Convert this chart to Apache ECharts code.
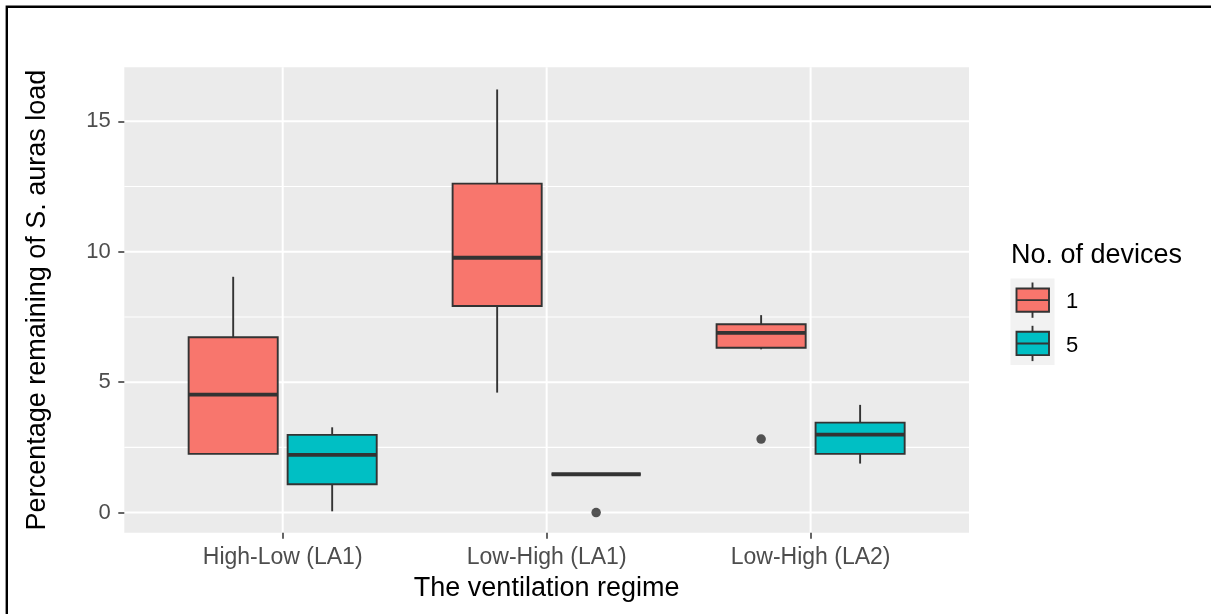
<!DOCTYPE html>
<html>
<head>
<meta charset="utf-8">
<script src="https://cdn.jsdelivr.net/npm/echarts@6/dist/echarts.min.js"></script>
<style>
  html, body { margin: 0; padding: 0; background: #ffffff; }
  #chart { width: 1211px; height: 614px; }
</style>
</head>
<body>
<div id="chart"></div>
<script>
// Ventilation regimes on the x axis
const categories = ['High-Low (LA1)', 'Low-High (LA1)', 'Low-High (LA2)'];
// Groups shown in the legend
const deviceGroups = ['1', '5'];
// Box statistics per regime: [lower whisker, Q1, median, Q3, upper whisker]
const statsDevices1 = [
  [2.25, 2.25, 4.52, 6.72, 9.04],
  [4.60, 7.92, 9.77, 12.61, 16.22],
  [6.26, 6.32, 6.89, 7.22, 7.57]
];
const statsDevices5 = [
  [0.05, 1.09, 2.21, 2.98, 3.27],
  [1.47, 1.47, 1.47, 1.47, 1.47],
  [1.88, 2.25, 2.99, 3.45, 4.13]
];
// Outliers: [regime index, value]
const outliersDevices1 = [[2, 2.82]];
const outliersDevices5 = [[1, 0]];
// Axis ticks
const yTicks = [0, 5, 10, 15];
const yMinorTicks = [2.5, 7.5, 12.5];
const xTicks = [1, 2, 3];

const FILLS = ['#F8766D', '#00BFC4'];
const EDGE = '#333333';
const DODGE = 0.1875;      // half of the dodge width (0.75 / 2 / 2)
const HALF_BOX = 0.16875;  // half box width after dodge padding
const FONT = '"Liberation Sans", Arial, sans-serif';

function boxSeries(stats, groupIdx) {
  const side = groupIdx === 0 ? -1 : 1;
  return {
    type: 'custom',
    name: deviceGroups[groupIdx],
    z: 3,
    data: stats.map((s, i) => [i + 1].concat(s)),
    encode: { x: 0, y: [1, 2, 3, 4, 5] },
    renderItem: function (params, api) {
      const c = api.value(0) + side * DODGE;
      const lo = api.value(1), q1 = api.value(2), med = api.value(3), q3 = api.value(4), hi = api.value(5);
      const pC = api.coord([c, med]);
      const xL = api.coord([c - HALF_BOX, med])[0];
      const xR = api.coord([c + HALF_BOX, med])[0];
      const yLo = api.coord([c, lo])[1];
      const yQ1 = api.coord([c, q1])[1];
      const yQ3 = api.coord([c, q3])[1];
      const yHi = api.coord([c, hi])[1];
      const lineStyle = { stroke: EDGE, lineWidth: 1.9 };
      return {
        type: 'group',
        children: [
          { type: 'line', shape: { x1: pC[0], y1: yQ3, x2: pC[0], y2: yHi }, style: lineStyle },
          { type: 'line', shape: { x1: pC[0], y1: yQ1, x2: pC[0], y2: yLo }, style: lineStyle },
          { type: 'rect', shape: { x: xL, y: yQ3, width: xR - xL, height: yQ1 - yQ3 },
            style: { fill: FILLS[groupIdx], stroke: EDGE, lineWidth: 1.9 } },
          { type: 'line', shape: { x1: xL, y1: pC[1], x2: xR, y2: pC[1] },
            style: { stroke: EDGE, lineWidth: 3.8 } }
        ]
      };
    }
  };
}

function outlierSeries(points, groupIdx) {
  const side = groupIdx === 0 ? -1 : 1;
  return {
    type: 'scatter',
    z: 4,
    symbol: 'circle',
    symbolSize: 9.5,
    itemStyle: { color: '#2B2B2B' },
    data: points.map(p => [p[0] + 1 + side * DODGE, p[1]])
  };
}

// Panel grid lines, drawn beneath the boxes
function gridLineSeries(values, horizontal, width) {
  return {
    type: 'custom',
    z: 1,
    silent: true,
    data: values.map(v => [v]),
    encode: horizontal ? { y: 0 } : { x: 0 },
    renderItem: function (params, api) {
      const cs = params.coordSys;
      const v = api.value(0);
      if (horizontal) {
        const y = api.coord([1, v])[1];
        return { type: 'line', shape: { x1: cs.x, y1: y, x2: cs.x + cs.width, y2: y },
                 style: { stroke: '#FFFFFF', lineWidth: width } };
      }
      const x = api.coord([v, 0])[0];
      return { type: 'line', shape: { x1: x, y1: cs.y, x2: x, y2: cs.y + cs.height },
               style: { stroke: '#FFFFFF', lineWidth: width } };
    }
  };
}

// Legend drawn as ggplot-style boxplot keys
function legendGraphics() {
  const keyX = 1010.5, keyY = 278.5, keyW = 44, keyH = 43.3;
  const els = [
    { type: 'text', left: 1011, top: 242,
      style: { text: 'No. of devices', fill: '#000000', font: '27px ' + FONT } },
    { type: 'rect', shape: { x: keyX, y: keyY, width: keyW, height: keyH * 2 },
      style: { fill: '#F2F2F2' } }
  ];
  deviceGroups.forEach((g, i) => {
    const top = keyY + i * keyH;
    const cx = keyX + keyW / 2;
    els.push(
      { type: 'line', shape: { x1: cx, y1: top + 4, x2: cx, y2: top + keyH - 4 },
        style: { stroke: EDGE, lineWidth: 1.9 } },
      { type: 'rect', shape: { x: keyX + 6, y: top + 10, width: keyW - 11.5, height: keyH - 20 },
        style: { fill: FILLS[i], stroke: EDGE, lineWidth: 1.9 } },
      { type: 'line', shape: { x1: keyX + 6, y1: top + keyH / 2, x2: keyX + keyW - 5.5, y2: top + keyH / 2 },
        style: { stroke: EDGE, lineWidth: 1.9 } },
      { type: 'text', left: 1066, top: top + keyH / 2 - 9,
        style: { text: g, fill: '#000000', font: '22px ' + FONT } }
    );
  });
  // outer frame around the figure
  els.push({ type: 'rect', z: 100, shape: { x: 6.8, y: 6.8, width: 1400, height: 800 },
             style: { fill: null, stroke: '#000000', lineWidth: 2.4 } });
  return els;
}

const chart = echarts.init(document.getElementById('chart'), null, { renderer: 'canvas' });
chart.setOption({
  animation: false,
  backgroundColor: '#FFFFFF',
  grid: {
    left: 124.3, right: 242, top: 67.3, bottom: 81.3,
    show: true, backgroundColor: '#EBEBEB', borderWidth: 0
  },
  xAxis: {
    type: 'value',
    min: 0.4, max: 3.6,
    z: 5,
    name: 'The ventilation regime',
    nameLocation: 'middle',
    nameGap: 42,
    nameTextStyle: { color: '#000000', fontSize: 27, fontFamily: FONT },
    axisLine: { show: false, onZero: false },
    axisTick: { show: true, length: 6, customValues: xTicks, lineStyle: { color: EDGE, width: 1.5 } },
    axisLabel: {
      customValues: xTicks, margin: 13.5,
      color: '#4D4D4D', fontSize: 23, fontFamily: FONT,
      formatter: v => categories[Math.round(v) - 1] || ''
    },
    splitLine: { show: false }
  },
  yAxis: {
    type: 'value',
    min: -0.77, max: 17.07,
    z: 5,
    name: 'Percentage remaining of S. auras load',
    nameLocation: 'middle',
    nameGap: 73,
    nameRotate: 90,
    nameTextStyle: { color: '#000000', fontSize: 27, fontFamily: FONT },
    axisLine: { show: false, onZero: false },
    axisTick: { show: true, length: 6, customValues: yTicks, lineStyle: { color: EDGE, width: 1.5 } },
    axisLabel: {
      customValues: yTicks, margin: 13.5,
      color: '#4D4D4D', fontSize: 22, fontFamily: FONT
    },
    splitLine: { show: false }
  },
  graphic: legendGraphics(),
  series: [
    gridLineSeries(yMinorTicks, true, 1.1),
    gridLineSeries(yTicks, true, 2),
    gridLineSeries(xTicks, false, 2),
    boxSeries(statsDevices1, 0),
    boxSeries(statsDevices5, 1),
    outlierSeries(outliersDevices1, 0),
    outlierSeries(outliersDevices5, 1)
  ]
});
</script>
</body>
</html>
